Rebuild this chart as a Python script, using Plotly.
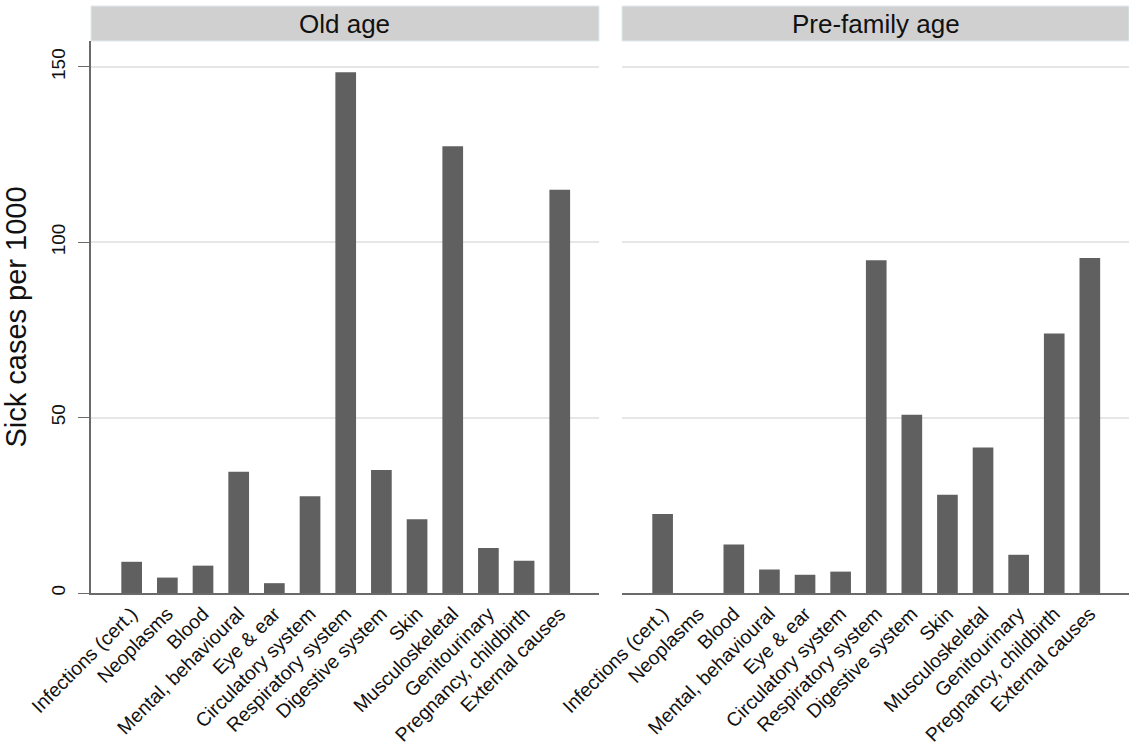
import plotly.graph_objects as go

categories = ["Infections (cert.)", "Neoplasms", "Blood", "Mental, behavioural", "Eye & ear",
              "Circulatory system", "Respiratory system", "Digestive system", "Skin",
              "Musculoskeletal", "Genitourinary", "Pregnancy, childbirth", "External causes"]
old_age = [8.9, 4.4, 7.8, 34.6, 2.8, 27.6, 148.5, 35.1, 21.0, 127.4, 12.8, 9.2, 115.0]
pre_family = [22.5, 0, 13.8, 6.7, 5.2, 6.1, 94.9, 50.8, 28.0, 41.5, 10.9, 74.0, 95.5]
panels = ["Old age", "Pre-family age"]
y_ticks = [0, 50, 100, 150]

FONT = "Liberation Sans, Arial, Helvetica, sans-serif"
BAR = "#606060"
AXIS = "#6a6a6a"
pos = list(range(len(categories)))

fig = go.Figure()
for i, vals in enumerate([old_age, pre_family]):
    fig.add_trace(go.Bar(x=pos, y=vals, xaxis="x" if i == 0 else "x2",
                         yaxis="y" if i == 0 else "y2", width=0.58,
                         marker=dict(color=BAR, line=dict(width=0)),
                         showlegend=False))

xr = [-1.14, 13.1]
xcommon = dict(range=xr, tickmode="array", tickvals=pos, ticktext=categories,
               tickangle=-45, showgrid=False, zeroline=False, showline=True,
               linecolor=AXIS, linewidth=1.5, ticks="", automargin=False,
               tickfont=dict(family=FONT, size=19.5, color="#111"))
ycommon = dict(range=[0, 157.4], tickmode="array", tickvals=y_ticks, showgrid=True,
               gridcolor="#e6e6e6", gridwidth=1.5, zeroline=False, automargin=False)

fig.update_layout(
    width=1129, height=746,
    margin=dict(l=91, r=0, t=41, b=153),
    paper_bgcolor="white", plot_bgcolor="white",
    xaxis=dict(domain=[0, 0.4894], **xcommon),
    xaxis2=dict(domain=[0.5116, 1.0], anchor="y2", **xcommon),
    yaxis=dict(**ycommon, showline=True, linecolor=AXIS, linewidth=1.5,
               ticks="outside", ticklen=11, tickcolor=AXIS, tickwidth=1.2,
               tickangle=-90, ticklabelstandoff=6,
               tickfont=dict(family=FONT, size=19, color="#111"),
               title=dict(text="Sick cases per 1000", standoff=18,
                          font=dict(family=FONT, size=29, color="#111"))),
    yaxis2=dict(**ycommon, anchor="x2", matches="y", showline=False, showticklabels=False),
)

hdr_h = 35 / 552
for i, name in enumerate(panels):
    xref = "x domain" if i == 0 else "x2 domain"
    fig.add_shape(type="rect", xref=xref, yref="paper", x0=0, x1=1, y0=1.0, y1=1.0 + hdr_h,
                  fillcolor="#d0d0d0", line=dict(color="#dfe9ef", width=1), layer="below")
    fig.add_annotation(xref=xref, yref="paper", x=0.5, y=1.0 + hdr_h / 2, text=name,
                       showarrow=False, xanchor="center", yanchor="middle",
                       font=dict(family=FONT, size=26, color="#111"))

fig.write_html("out.html", config={"displayModeBar": False},
               post_script="document.body.style.margin='0';")
